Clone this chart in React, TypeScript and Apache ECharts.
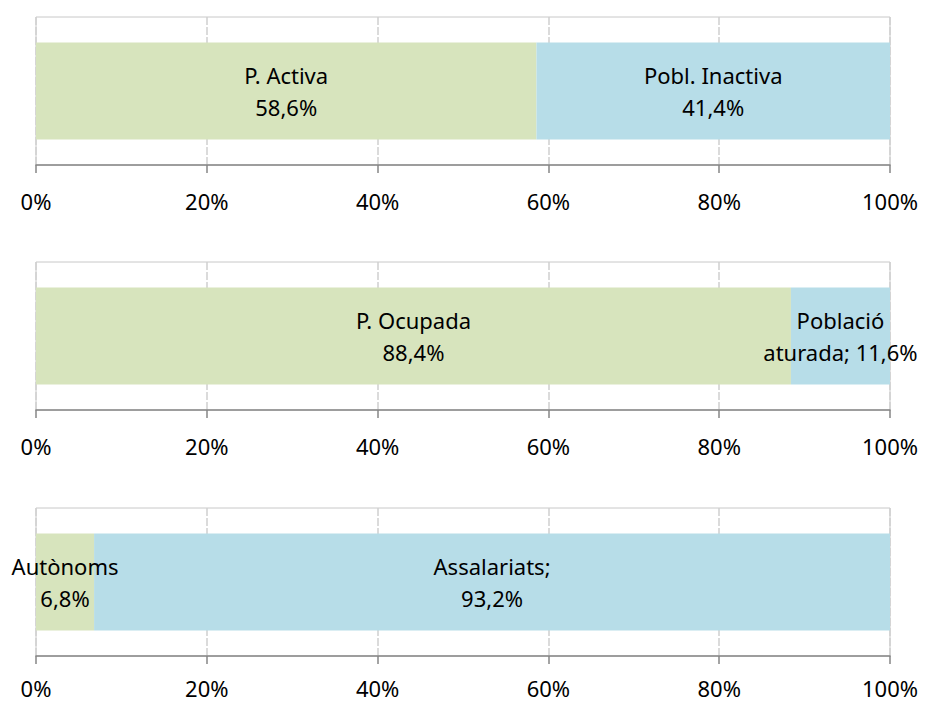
import React, { useEffect, useRef } from "react";
import * as echarts from "echarts";

// Data
const panelCategories = ["Activitat", "Ocupació", "Situació professional"];
const firstNames = ["P. Activa", "P. Ocupada", "Autònoms"];
const firstValues = [58.6, 88.4, 6.8];
const secondNames = ["Pobl. Inactiva", "Població aturada", "Assalariats"];
const secondValues = [41.4, 11.6, 93.2];
// How the data label text wraps in the original
const firstLabelSep = ["\n", "\n", "\n"];
const secondLabelSep = ["\n", "; ", ";\n"];
const secondNameWrap = ["Pobl. Inactiva", "Població\naturada", "Assalariats"];
const tickValues = [0, 20, 40, 60, 80, 100];

const GREEN = "#D7E4BD";
const BLUE = "#B7DDE8";
const FONT = "Noto Sans";

const fmt = (v: number) => v.toFixed(1).replace(".", ",") + "%";

export default function App() {
  const ref = useRef<HTMLDivElement>(null);
  useEffect(() => {
    if (!ref.current) return;
    const chart = echarts.init(ref.current, undefined, { renderer: "svg" });
    const tops = [17, 262, 508];
    const margins = [25, 25, 21];
    const grids = tops.map((t) => ({
      left: 36,
      right: 36,
      top: t,
      height: 148,
      show: true,
      borderColor: "#C8C8C8",
      borderWidth: 1,
      backgroundColor: "transparent",
    }));
    const xAxes = tops.map((_, i) => ({
      type: "value",
      gridIndex: i,
      min: tickValues[0],
      max: tickValues[tickValues.length - 1],
      interval: 20,
      axisLine: { show: true, lineStyle: { color: "#868686", width: 1.5 } },
      axisTick: { show: true, length: 8, lineStyle: { color: "#868686", width: 1.5 } },
      axisLabel: {
        formatter: "{value}%",
        color: "#000",
        fontSize: 22,
        fontFamily: FONT,
        margin: margins[i],
      },
      splitLine: { show: true, lineStyle: { color: "#D0D0D0", type: [8, 2], width: 1.5 } },
    }));
    const yAxes = tops.map((_, i) => ({
      type: "category",
      gridIndex: i,
      data: [panelCategories[i]],
      axisLine: { show: false },
      axisTick: { show: false },
      axisLabel: { show: false },
      splitLine: { show: false },
    }));
    const labelStyle = {
      show: true,
      position: "inside",
      color: "#000",
      fontSize: 22,
      fontFamily: FONT,
      lineHeight: 32,
      overflow: "none",
    };
    const series: any[] = [];
    panelCategories.forEach((_, i) => {
      series.push({
        type: "bar",
        name: firstNames[i],
        xAxisIndex: i,
        yAxisIndex: i,
        stack: "s" + i,
        barWidth: 97,
        data: [firstValues[i]],
        itemStyle: { color: GREEN },
        label: {
          ...labelStyle,
          formatter: () => firstNames[i] + firstLabelSep[i] + fmt(firstValues[i]),
        },
      });
      series.push({
        type: "bar",
        name: secondNames[i],
        xAxisIndex: i,
        yAxisIndex: i,
        stack: "s" + i,
        barWidth: 97,
        data: [secondValues[i]],
        itemStyle: { color: BLUE },
        label: {
          ...labelStyle,
          formatter: () => secondNameWrap[i] + secondLabelSep[i] + fmt(secondValues[i]),
        },
      });
    });
    chart.setOption({
      animation: false,
      backgroundColor: "#fff",
      grid: grids,
      xAxis: xAxes,
      yAxis: yAxes,
      series,
    });
    return () => chart.dispose();
  }, []);
  return (
    <div
      ref={ref}
      style={{ position: "fixed", left: 0, top: 0, width: 926, height: 704, background: "#fff" }}
    />
  );
}
